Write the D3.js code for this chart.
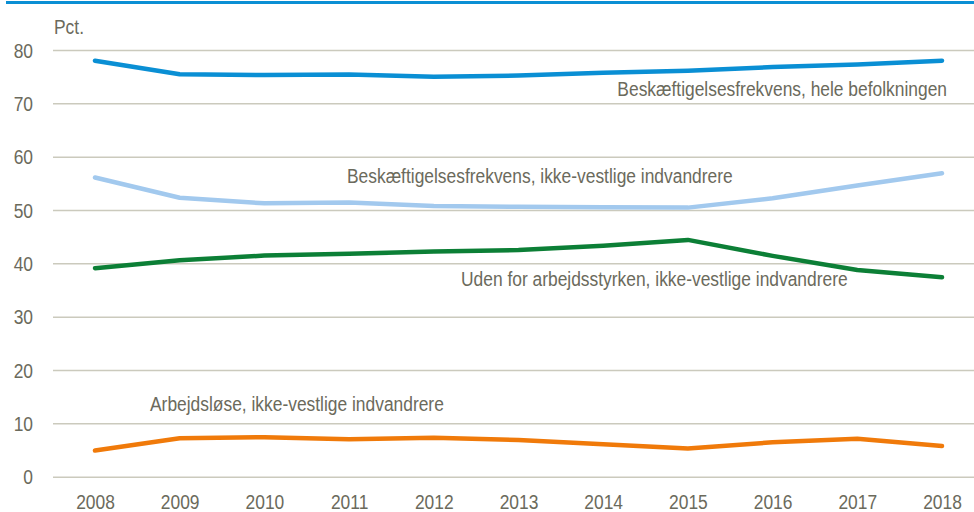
<!DOCTYPE html>
<html>
<head>
<meta charset="utf-8">
<script src="https://cdn.jsdelivr.net/npm/d3@7"></script>
<style>
  body { margin: 0; background: #fff; }
  svg text { font-family: "Liberation Sans Narrow", "Arial Narrow", "Liberation Sans", sans-serif; fill: #6b6a5c; font-size: 20px; }
</style>
</head>
<body>
<div class="chart"></div>
<script>
// years on the x axis
const years = [2008, 2009, 2010, 2011, 2012, 2013, 2014, 2015, 2016, 2017, 2018];

// series, pct.
const empAll = [78.0, 75.45, 75.3, 75.4, 75.0, 75.2, 75.75, 76.1, 76.8, 77.3, 78.0];
const empNonWest = [56.1, 52.3, 51.25, 51.4, 50.75, 50.6, 50.5, 50.45, 52.2, 54.6, 56.9];
const outsideNonWest = [39.1, 40.6, 41.45, 41.8, 42.2, 42.5, 43.3, 44.4, 41.4, 38.75, 37.4];
const unempNonWest = [4.9, 7.2, 7.4, 7.0, 7.3, 6.9, 6.1, 5.3, 6.45, 7.1, 5.75];

const yTicks = [0, 10, 20, 30, 40, 50, 60, 70, 80];

const series = [
  { name: "Beskæftigelsesfrekvens, hele befolkningen", values: empAll, color: "#0a8fd4" },
  { name: "Beskæftigelsesfrekvens, ikke-vestlige indvandrere", values: empNonWest, color: "#a2c9ee" },
  { name: "Uden for arbejdsstyrken, ikke-vestlige indvandrere", values: outsideNonWest, color: "#0c7f36" },
  { name: "Arbejdsløse, ikke-vestlige indvandrere", values: unempNonWest, color: "#f07a0a" }
];

const width = 974, height = 512;
// no narrow font installed, so squeeze the regular one sideways
const squeeze = "scale(0.87,1)";

const svg = d3.select(".chart").append("svg")
  .attr("width", width)
  .attr("height", height);

// blue rule across the top
svg.append("line")
  .attr("x1", 6).attr("x2", 974)
  .attr("y1", 2.5).attr("y2", 2.5)
  .attr("stroke", "#0a8fd4")
  .attr("stroke-width", 3);

const x = d3.scalePoint().domain(years).range([95, 942]);
const y = d3.scaleLinear().domain([0, 80]).range([476.7, 50]);

// grid + y labels
const yAxis = svg.append("g")
  .attr("transform", "translate(53,0)")
  .call(d3.axisLeft(y).tickValues(yTicks).tickSize(-(974 - 53)));
yAxis.select(".domain").remove();
yAxis.selectAll(".tick line").attr("stroke", "#cbcabd").attr("stroke-width", 1.5);
yAxis.selectAll(".tick text")
  .attr("x", 0)
  .attr("dy", "0.35em")
  .attr("transform", "translate(-20,0) " + squeeze);

// x labels
const xAxis = svg.append("g")
  .attr("transform", "translate(0,476.7)")
  .call(d3.axisBottom(x).tickSize(0).tickPadding(18));
xAxis.select(".domain").remove();
xAxis.selectAll(".tick text").attr("transform", squeeze);

svg.append("text")
  .attr("transform", "translate(54,34) " + squeeze)
  .text("Pct.");

const line = d3.line()
  .x((d, i) => x(years[i]))
  .y(d => y(d));

svg.selectAll(".series")
  .data(series)
  .enter().append("path")
  .attr("class", "series")
  .attr("d", d => line(d.values))
  .attr("fill", "none")
  .attr("stroke", d => d.color)
  .attr("stroke-width", 4.5)
  .attr("stroke-linecap", "round")
  .attr("stroke-linejoin", "round");

// series labels
const labels = [
  { x: 947, y: 96, anchor: "end" },
  { x: 347, y: 183, anchor: "start" },
  { x: 461, y: 286, anchor: "start" },
  { x: 150, y: 411, anchor: "start" }
];
svg.selectAll(".lbl")
  .data(series)
  .enter().append("text")
  .attr("class", "lbl")
  .attr("transform", (d, i) => "translate(" + labels[i].x + "," + labels[i].y + ") " + squeeze)
  .attr("text-anchor", (d, i) => labels[i].anchor)
  .text(d => d.name);
</script>
</body>
</html>
